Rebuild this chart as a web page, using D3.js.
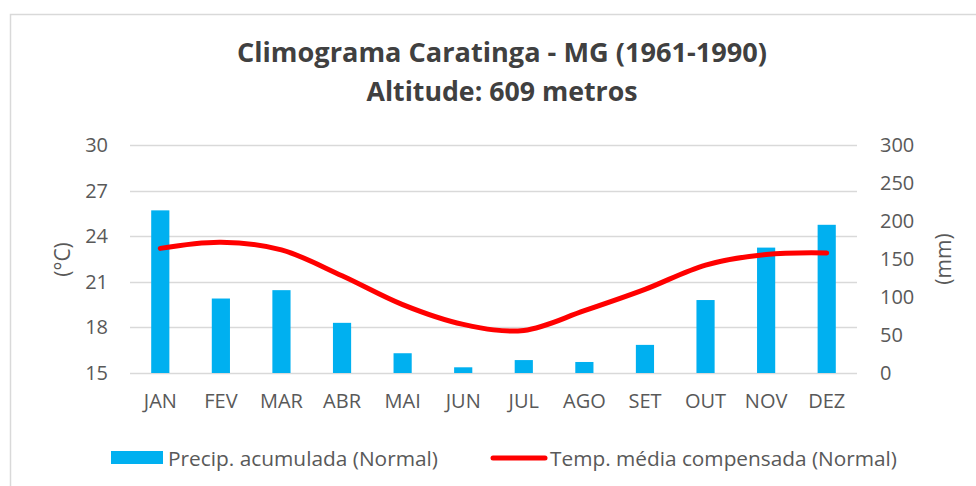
<!DOCTYPE html>
<html>
<head>
<meta charset="utf-8">
<script src="https://cdn.jsdelivr.net/npm/d3@7"></script>
<style>
  html, body { margin: 0; padding: 0; background: #ffffff; }
  svg { display: block; }
  text { font-family: "Open Sans", "DejaVu Sans", sans-serif; }
</style>
</head>
<body>
<div id="chart"></div>
<script>
// ---- Data ----
const months = ["JAN", "FEV", "MAR", "ABR", "MAI", "JUN", "JUL", "AGO", "SET", "OUT", "NOV", "DEZ"];
const precip = [214, 98, 109, 66, 26, 7.5, 17, 14.5, 37, 96, 165, 195];
const temp = [23.2, 23.6, 23.1, 21.4, 19.5, 18.2, 17.8, 19.1, 20.5, 22.1, 22.8, 22.9];
const tempTicks = [15, 18, 21, 24, 27, 30];
const precipTicks = [0, 50, 100, 150, 200, 250, 300];
const titleLines = ["Climograma Caratinga - MG (1961-1990)", "Altitude: 609 metros"];
const leftAxisTitle = "(°C)";
const rightAxisTitle = "(mm)";
const legendLabels = ["Precip. acumulada (Normal)", "Temp. média compensada (Normal)"];

// ---- Layout ----
const W = 976, H = 486;
const plot = { left: 130, right: 857, top: 145, bottom: 373 };
const barColor = "#00b0f0";
const lineColor = "#ff0000";
const gridColor = "#d9d9d9";
const labelColor = "#595959";
const titleColor = "#404040";

const svg = d3.select("#chart").append("svg")
  .attr("width", W).attr("height", H);

svg.append("rect").attr("width", W).attr("height", H).attr("fill", "#fff");

// chart border (extends past right/bottom edges)
svg.append("rect")
  .attr("x", 10.5).attr("y", 14.5)
  .attr("width", 1200).attr("height", 1200)
  .attr("fill", "none").attr("stroke", gridColor).attr("stroke-width", 1.5);

const x = d3.scaleBand().domain(months).range([plot.left, plot.right]).padding(0);
const yL = d3.scaleLinear().domain([15, 30]).range([plot.bottom, plot.top]);
const yR = d3.scaleLinear().domain([0, 300]).range([plot.bottom, plot.top]);

// gridlines
svg.append("g").selectAll("line").data(tempTicks).join("line")
  .attr("x1", plot.left).attr("x2", plot.right)
  .attr("y1", d => Math.round(yL(d)) + 0.5).attr("y2", d => Math.round(yL(d)) + 0.5)
  .attr("stroke", gridColor).attr("stroke-width", 1.5);

// left axis
const leftAxis = svg.append("g")
  .attr("transform", `translate(${plot.left - 22},0)`)
  .call(d3.axisLeft(yL).tickValues(tempTicks).tickSize(0).tickPadding(0));
leftAxis.select(".domain").remove();
leftAxis.selectAll("text")
  .attr("font-size", 20).attr("fill", labelColor)
  .attr("font-family", "Open Sans");

// right axis
const rightAxis = svg.append("g")
  .attr("transform", `translate(${plot.right + 23},0)`)
  .call(d3.axisRight(yR).tickValues(precipTicks).tickSize(0).tickPadding(0));
rightAxis.select(".domain").remove();
rightAxis.selectAll("text")
  .attr("font-size", 20).attr("fill", labelColor)
  .attr("font-family", "Open Sans");

// bottom axis labels
const bottomAxis = svg.append("g")
  .attr("transform", `translate(0,${plot.bottom + 21})`)
  .call(d3.axisBottom(x).tickSize(0).tickPadding(0));
bottomAxis.select(".domain").remove();
bottomAxis.selectAll("text")
  .attr("font-size", 20).attr("fill", labelColor)
  .attr("font-family", "Open Sans");

// bars
const barW = x.bandwidth() * 0.3;
svg.append("g").selectAll("rect").data(months).join("rect")
  .attr("x", (m) => x(m) + (x.bandwidth() - barW) / 2)
  .attr("width", barW)
  .attr("y", (m, i) => yR(precip[i]))
  .attr("height", (m, i) => yR(0) - yR(precip[i]))
  .attr("fill", barColor);

// temperature line
const line = d3.line()
  .x((d, i) => x(months[i]) + x.bandwidth() / 2)
  .y(d => yL(d))
  .curve(d3.curveCardinal.tension(0));
svg.append("path").datum(temp)
  .attr("d", line)
  .attr("fill", "none").attr("stroke", lineColor)
  .attr("stroke-width", 5).attr("stroke-linecap", "round").attr("stroke-linejoin", "round");

// axis titles
svg.append("text")
  .attr("transform", "translate(61.5,259.5) rotate(-90)")
  .attr("text-anchor", "middle").attr("dominant-baseline", "central")
  .attr("font-size", 21).attr("fill", labelColor)
  .text(leftAxisTitle);
svg.append("text")
  .attr("transform", "translate(942.5,259) rotate(-90)")
  .attr("text-anchor", "middle").attr("dominant-baseline", "central")
  .attr("font-size", 21).attr("fill", labelColor)
  .text(rightAxisTitle);

// title
const titleWidths = [530, 271];
const titleBaselines = [62, 100.5];
titleLines.forEach((t, i) => {
  svg.append("text")
    .attr("x", 502).attr("y", titleBaselines[i])
    .attr("text-anchor", "middle")
    .attr("font-size", 26).attr("font-weight", "bold")
    .attr("fill", titleColor)
    .attr("textLength", titleWidths[i]).attr("lengthAdjust", "spacingAndGlyphs")
    .text(t);
});

// legend
const leg = svg.append("g");
leg.append("rect").attr("x", 111).attr("y", 451).attr("width", 52).attr("height", 13).attr("fill", barColor);
leg.append("text").attr("x", 168).attr("y", 458).attr("dominant-baseline", "central")
  .attr("font-size", 20).attr("fill", labelColor)
  .attr("textLength", 270).attr("lengthAdjust", "spacingAndGlyphs")
  .text(legendLabels[0]);
leg.append("line").attr("x1", 493).attr("x2", 545).attr("y1", 458).attr("y2", 458)
  .attr("stroke", lineColor).attr("stroke-width", 5).attr("stroke-linecap", "round");
leg.append("text").attr("x", 550).attr("y", 458).attr("dominant-baseline", "central")
  .attr("font-size", 20).attr("fill", labelColor)
  .attr("textLength", 347).attr("lengthAdjust", "spacingAndGlyphs")
  .text(legendLabels[1]);
</script>
</body>
</html>
